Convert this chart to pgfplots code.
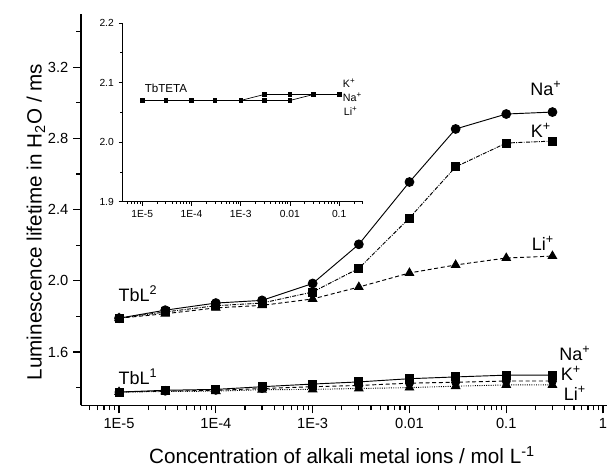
\documentclass[border=0pt]{standalone}
\usepackage{pgfplots}
\pgfplotsset{compat=1.18}
\usepackage{fontspec}
\setmainfont{Liberation Sans}
\newcommand{\fs}[1]{\fontsize{#1}{#1}\selectfont}
\begin{document}
\begin{tikzpicture}
% ---------------- main axis ----------------
\begin{axis}[
  at={({81*0.75pt},{-405.4*0.75pt})}, anchor=south west,
  scale only axis, width=397.3pt, height=293.7pt,
  xmode=log, log basis x=10,
  xmin=4.046e-6, xmax=1.2, ymin=1.3, ymax=3.5,
  axis lines=left, axis line style={-, line width=1.2pt},
  tick align=outside, major tick length=6pt, minor tick length=3.5pt,
  tick style={black, line width=0.9pt},
  xtick={1e-5,1e-4,1e-3,1e-2,1e-1,1},
  xticklabels={1E-5,1E-4,1E-3,0.01,0.1,1},
  minor xtick={5e-6,6e-6,7e-6,8e-6,9e-6,
    2e-5,3e-5,4e-5,5e-5,6e-5,7e-5,8e-5,9e-5,
    2e-4,3e-4,4e-4,5e-4,6e-4,7e-4,8e-4,9e-4,
    2e-3,3e-3,4e-3,5e-3,6e-3,7e-3,8e-3,9e-3,
    2e-2,3e-2,4e-2,5e-2,6e-2,7e-2,8e-2,9e-2,
    0.2,0.3,0.4,0.5,0.6,0.7,0.8,0.9},
  ytick={1.6,2.0,2.4,2.8,3.2}, yticklabels={1.6,2.0,2.4,2.8,3.2},
  minor ytick={1.4,1.8,2.2,2.6,3.0,3.4},
  ticklabel style={font=\fs{11pt}},
  clip=false,
]
% TbL2
\addplot[black, line width=0.7pt, mark=*, mark size=3.3pt, mark options={solid}] coordinates {
 (1e-5,1.79) (3e-5,1.835) (1e-4,1.875) (3e-4,1.89) (1e-3,1.985)
 (3e-3,2.205) (0.01,2.555) (0.03,2.853) (0.1,2.937) (0.3,2.948)};
\addplot[black, line width=0.7pt, densely dashdotted, mark=square*, mark size=3pt, mark options={solid}] coordinates {
 (1e-5,1.79) (3e-5,1.825) (1e-4,1.86) (3e-4,1.875) (1e-3,1.937)
 (3e-3,2.07) (0.01,2.353) (0.03,2.64) (0.1,2.774) (0.3,2.785)};
\addplot[black, line width=0.7pt, dash pattern=on 3pt off 2pt, mark=triangle*, mark size=3.6pt, mark options={solid}] coordinates {
 (1e-5,1.79) (3e-5,1.815) (1e-4,1.848) (3e-4,1.862) (1e-3,1.898)
 (3e-3,1.965) (0.01,2.044) (0.03,2.089) (0.1,2.128) (0.3,2.139)};
% TbL1
\addplot[black, line width=0.7pt, mark=square*, mark size=3pt, mark options={solid}] coordinates {
 (1e-5,1.375) (3e-5,1.385) (1e-4,1.39) (3e-4,1.405) (1e-3,1.42)
 (3e-3,1.432) (0.01,1.45) (0.03,1.46) (0.1,1.47) (0.3,1.47)};
\addplot[black, line width=0.7pt, dash pattern=on 3pt off 2pt, mark=*, mark size=3pt, mark options={solid}] coordinates {
 (1e-5,1.375) (3e-5,1.38) (1e-4,1.385) (3e-4,1.395) (1e-3,1.405)
 (3e-3,1.412) (0.01,1.425) (0.03,1.43) (0.1,1.437) (0.3,1.437)};
\addplot[black, line width=0.7pt, densely dotted, mark=triangle*, mark size=3.6pt, mark options={solid}] coordinates {
 (1e-5,1.375) (3e-5,1.378) (1e-4,1.38) (3e-4,1.388) (1e-3,1.39)
 (3e-3,1.395) (0.01,1.40) (0.03,1.408) (0.1,1.415) (0.3,1.415)};
\end{axis}
% ---------------- inset axis ----------------
\begin{axis}[
  at={({122.5*0.75pt},{-201.7*0.75pt})}, anchor=south west,
  scale only axis, width=180.2pt, height=134.0pt,
  xmode=log, log basis x=10,
  xmin=3.98e-6, xmax=0.302, ymin=1.9, ymax=2.2,
  axis lines=left, axis line style={-, line width=0.6pt},
  tick align=outside, major tick length=3pt, minor tick length=1.6pt,
  tick style={black, line width=0.5pt},
  xtick={1e-5,1e-4,1e-3,1e-2,1e-1},
  xticklabels={1E-5,1E-4,1E-3,0.01,0.1},
  minor xtick={5e-6,6e-6,7e-6,8e-6,9e-6,
    2e-5,3e-5,4e-5,5e-5,6e-5,7e-5,8e-5,9e-5,
    2e-4,3e-4,4e-4,5e-4,6e-4,7e-4,8e-4,9e-4,
    2e-3,3e-3,4e-3,5e-3,6e-3,7e-3,8e-3,9e-3,
    2e-2,3e-2,4e-2,5e-2,6e-2,7e-2,8e-2,9e-2,
    0.2,0.3},
  ytick={1.9,2.0,2.1,2.2}, yticklabels={1.9,2.0,2.1,2.2},
  minor ytick={1.95,2.05,2.15},
  ticklabel style={font=\fs{7.7pt}},
  clip=false,
]
\addplot[black, line width=0.5pt, mark=square*, mark size=1.3pt] coordinates {
 (1e-5,2.07) (3e-5,2.07) (1e-4,2.07) (3e-4,2.07) (1e-3,2.07)
 (3e-3,2.08) (0.01,2.08) (0.03,2.08) (0.1,2.08)};
\addplot[black, line width=0.5pt, mark=square*, mark size=1.3pt] coordinates {
 (1e-5,2.07) (3e-5,2.07) (1e-4,2.07) (3e-4,2.07) (1e-3,2.07)
 (3e-3,2.07) (0.01,2.07) (0.03,2.08) (0.1,2.08)};
\end{axis}
% ---------------- labels ----------------
\node[font=\fs{15.5pt}, inner sep=0pt] at ({342*0.75pt},{-455*0.75pt}) {Concentration of alkali metal ions / mol L\textsuperscript{-1}};
\node[font=\fs{15.5pt}, rotate=90, inner sep=0pt] at ({36*0.75pt},{-222*0.75pt}) {Luminescence lifetime in H\textsubscript{2}O / ms};
\node[font=\fs{13.5pt}] at ({546*0.75pt},{-88*0.75pt}) {Na\textsuperscript{+}};
\node[font=\fs{13.5pt}] at ({541*0.75pt},{-130*0.75pt}) {K\textsuperscript{+}};
\node[font=\fs{13.5pt}] at ({543*0.75pt},{-243*0.75pt}) {Li\textsuperscript{+}};
\node[font=\fs{13.5pt}] at ({138*0.75pt},{-294*0.75pt}) {TbL\textsuperscript{2}};
\node[font=\fs{13.5pt}] at ({138*0.75pt},{-377*0.75pt}) {TbL\textsuperscript{1}};
\node[font=\fs{13.5pt}] at ({575*0.75pt},{-353*0.75pt}) {Na\textsuperscript{+}};
\node[font=\fs{13.5pt}] at ({571*0.75pt},{-373*0.75pt}) {K\textsuperscript{+}};
\node[font=\fs{13.5pt}] at ({575*0.75pt},{-393*0.75pt}) {Li\textsuperscript{+}};
\node[font=\fs{8.7pt}] at ({166*0.75pt},{-88*0.75pt}) {TbTETA};
\node[font=\fs{8pt}, anchor=west, inner sep=0.5pt] at ({342*0.75pt},{-83*0.75pt}) {K\textsuperscript{+}};
\node[font=\fs{8pt}, anchor=west, inner sep=0.5pt] at ({342*0.75pt},{-97*0.75pt}) {Na\textsuperscript{+}};
\node[font=\fs{8pt}, anchor=west, inner sep=0.5pt] at ({343*0.75pt},{-111*0.75pt}) {Li\textsuperscript{+}};
\pgfresetboundingbox
\path[use as bounding box] (0,0) rectangle ({607*0.75pt},{-468*0.75pt});
\end{tikzpicture}
\end{document}
